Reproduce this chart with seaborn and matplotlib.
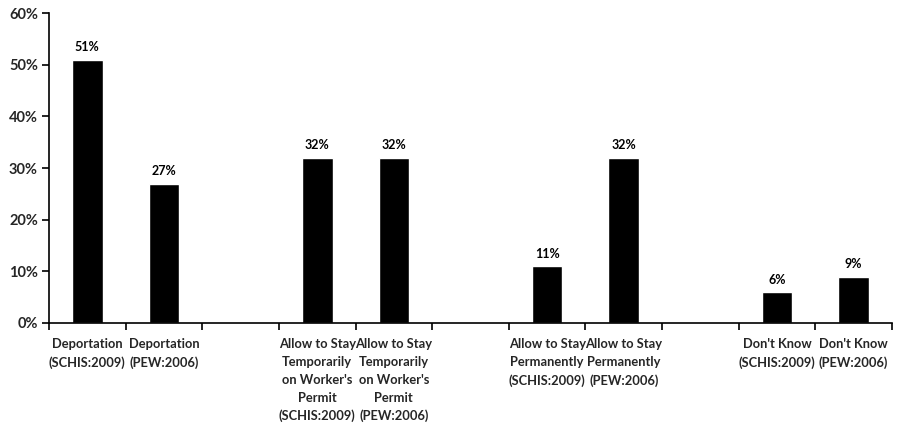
import matplotlib
matplotlib.use("Agg")
import matplotlib.pyplot as plt
import seaborn as sns
import pandas as pd
import numpy as np

categories = ["dep_schis", "dep_pew", "gap1", "temp_schis", "temp_pew", "gap2",
              "perm_schis", "perm_pew", "gap3", "dk_schis", "dk_pew"]
values = [51, 27, np.nan, 32, 32, np.nan, 11, 32, np.nan, 6, 9]
tick_labels = [
    "Deportation\n(SCHIS:2009)",
    "Deportation\n(PEW:2006)",
    "",
    "Allow to Stay\nTemporarily\non Worker's\nPermit\n(SCHIS:2009)",
    "Allow to Stay\nTemporarily\non Worker's\nPermit\n(PEW:2006)",
    "",
    "Allow to Stay\nPermanently\n(SCHIS:2009)",
    "Allow to Stay\nPermanently\n(PEW:2006)",
    "",
    "Don't Know\n(SCHIS:2009)",
    "Don't Know\n(PEW:2006)",
]
y_ticks = [0, 10, 20, 30, 40, 50, 60]

sns.set_theme(style="white")
plt.rcParams['font.family'] = ['Lato', 'DejaVu Sans']

df = pd.DataFrame({"cat": categories, "val": values})

fig = plt.figure(figsize=(8.99, 4.29), dpi=100)
ax = fig.add_axes([49/899, 1-323/429, (892-49)/899, (323-13)/429])

sns.barplot(data=df, x="cat", y="val", order=categories, color="black",
            width=0.4, ax=ax, saturation=1)

for i, v in enumerate(values):
    if not np.isnan(v):
        ax.text(i, v + 1.2, f"{int(v)}%", ha="center", va="bottom",
                fontsize=9, fontweight="bold", color="black")

ax.set_xlim(-0.5, len(categories) - 0.5)
ax.set_ylim(0, 60)
ax.set_yticks(y_ticks)
ax.set_yticklabels([f"{t}%" for t in y_ticks], fontsize=10.5, fontweight="bold")

ax.set_xticks(np.arange(len(categories) + 1) - 0.5)
ax.set_xticklabels([])
ax.set_xticks(np.arange(len(categories)), minor=True)
ax.set_xticklabels(tick_labels, minor=True, fontsize=9.3, fontweight="bold",
                   linespacing=1.58, va="top")
ax.tick_params(axis="x", which="major", direction="out", length=5, width=1.2,
               color="black", bottom=True)
ax.tick_params(axis="x", which="minor", length=0, pad=11)
ax.tick_params(axis="y", direction="out", length=5, width=1.2, color="black",
               left=True, pad=3)

ax.set_xlabel("")
ax.set_ylabel("")
for s in ["top", "right"]:
    ax.spines[s].set_visible(False)
for s in ["left", "bottom"]:
    ax.spines[s].set_color("black")
    ax.spines[s].set_linewidth(1.2)

fig.savefig("out.png", dpi=100, facecolor="white")
